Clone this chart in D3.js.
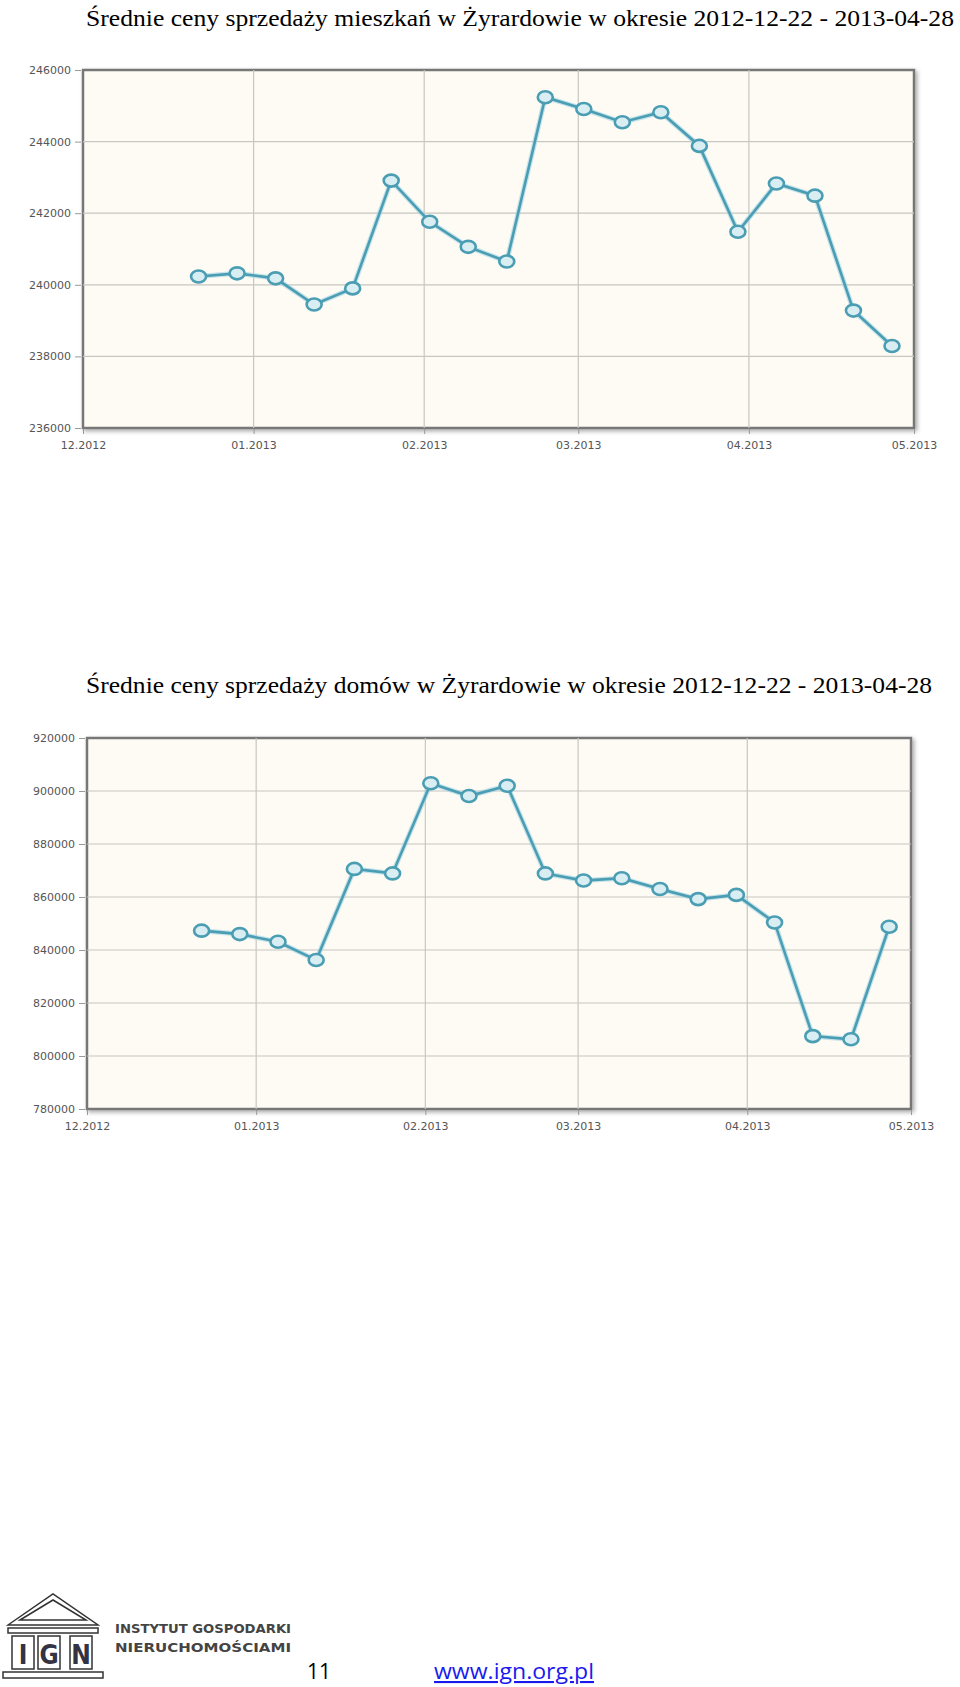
<!DOCTYPE html>
<html><head><meta charset="utf-8">
<script src="https://cdn.jsdelivr.net/npm/d3@7"></script>
<style>body{margin:0;background:#fff}svg{display:block}</style>
</head><body>
<script>
const dates = ["2012-12-22","2012-12-29","2013-01-05","2013-01-12","2013-01-19","2013-01-26","2013-02-02","2013-02-09","2013-02-16","2013-02-23","2013-03-02","2013-03-09","2013-03-16","2013-03-23","2013-03-30","2013-04-06","2013-04-13","2013-04-20","2013-04-27"];
const flatPrices = [240230,240320,240180,239450,239900,242910,241760,241060,240650,245240,244910,244540,244820,243880,241480,242830,242490,239280,238290];
const housePrices = [847300,846000,843100,836200,870600,868900,902900,898100,902000,868900,866200,867100,863000,859200,860800,850400,807500,806300,848800];
const monthTicks = ["2012-12-01","2013-01-01","2013-02-01","2013-03-01","2013-04-01","2013-05-01"];
const flatTicks = [236000,238000,240000,242000,244000,246000];
const houseTicks = [780000,800000,820000,840000,860000,880000,900000,920000];
const titles = ["Średnie ceny sprzedaży mieszkań w Żyrardowie w okresie 2012-12-22 - 2013-04-28",
                "Średnie ceny sprzedaży domów w Żyrardowie w okresie 2012-12-22 - 2013-04-28"];

const parse = d3.utcParse("%Y-%m-%d");
const fmtM = d3.utcFormat("%m.%Y");
const svg = d3.select("body").append("svg").attr("width",960).attr("height",1687);
const defs = svg.append("defs");
const f = defs.append("filter").attr("id","sh").attr("x","-5%").attr("y","-5%").attr("width","110%").attr("height","110%");
f.append("feDropShadow").attr("dx",2).attr("dy",2).attr("stdDeviation",2).attr("flood-color","#000").attr("flood-opacity",0.35);

function chart(cfg){
  const x = d3.scaleUtc().domain([parse(monthTicks[0]), parse(monthTicks[monthTicks.length-1])]).range([cfg.l, cfg.r]);
  const y = d3.scaleLinear().domain(cfg.domain).range([cfg.b, cfg.t]);
  const g = svg.append("g");
  g.append("text").attr("x",cfg.tx).attr("y",cfg.ty).attr("font-family","Liberation Serif").attr("font-size",24)
   .attr("textLength",cfg.tw).attr("lengthAdjust","spacingAndGlyphs").attr("fill","#000").text(cfg.title);
  g.append("rect").attr("x",cfg.l).attr("y",cfg.t).attr("width",cfg.r-cfg.l).attr("height",cfg.b-cfg.t)
   .attr("fill","#fdfbf4").attr("stroke","#777").attr("stroke-width",2.5).attr("filter","url(#sh)");
  // grid
  g.append("g").selectAll("line.h").data(cfg.ticks.slice(1,-1)).join("line")
   .attr("x1",cfg.l).attr("x2",cfg.r).attr("y1",d=>y(d)).attr("y2",d=>y(d)).attr("stroke","#c8c6c0").attr("stroke-width",1.2);
  g.append("g").selectAll("line.v").data(monthTicks.slice(1,-1)).join("line")
   .attr("x1",d=>x(parse(d))).attr("x2",d=>x(parse(d))).attr("y1",cfg.t).attr("y2",cfg.b).attr("stroke","#c8c6c0").attr("stroke-width",1.2);
  // axes
  const ya = d3.axisLeft(y).tickValues(cfg.ticks).tickFormat(d3.format("d")).tickSize(6).tickPadding(4);
  const yg = g.append("g").attr("transform",`translate(${cfg.l-2},0)`).call(ya);
  yg.select(".domain").remove();
  yg.selectAll("line").attr("stroke","#999");
  yg.selectAll("text").attr("font-family","DejaVu Sans").attr("font-size",11).attr("fill","#555");
  const xa = d3.axisBottom(x).tickValues(monthTicks.map(parse)).tickFormat(fmtM).tickSize(5).tickPadding(7);
  const xg = g.append("g").attr("transform",`translate(0,${cfg.b+1})`).call(xa);
  xg.select(".domain").remove();
  xg.selectAll("line").attr("stroke","#999");
  xg.selectAll("text").attr("font-family","DejaVu Sans").attr("font-size",11).attr("fill","#555");
  // line
  const pts = dates.map((d,i)=>[parse(d), cfg.values[i]]);
  const line = d3.line().x(d=>x(d[0])).y(d=>y(d[1]));
  g.append("path").datum(pts).attr("d",line).attr("fill","none").attr("stroke","#9fd4e2").attr("stroke-width",5).attr("opacity",0.6);
  g.append("path").datum(pts).attr("d",line).attr("fill","none").attr("stroke","#4a9db3").attr("stroke-width",2.6);
  g.append("g").selectAll("ellipse").data(pts).join("ellipse")
   .attr("cx",d=>x(d[0])).attr("cy",d=>y(d[1])).attr("rx",7.5).attr("ry",6)
   .attr("fill","#d8eef3").attr("stroke","#4a9db3").attr("stroke-width",2.6);
}
chart({title:titles[0],tx:86,ty:26,tw:868,l:83,r:914,t:70,b:428,domain:[236000,246000],ticks:flatTicks,values:flatPrices});
chart({title:titles[1],tx:86,ty:693,tw:846,l:87,r:911,t:738,b:1109,domain:[780000,920000],ticks:houseTicks,values:housePrices});

// footer
const ft = svg.append("g");
const lg = ft.append("g").attr("fill","none").attr("stroke","#333").attr("stroke-width",1.5);
lg.append("path").attr("d","M8,1625 L53,1594 L98,1625 Z");
lg.append("path").attr("d","M20,1620 L53,1600 L86,1620 Z");
lg.append("rect").attr("x",8).attr("y",1628).attr("width",90).attr("height",5);
lg.append("rect").attr("x",3).attr("y",1672).attr("width",100).attr("height",6);
[12,38,70].forEach(px=>lg.append("rect").attr("x",px).attr("y",1636).attr("width",22).attr("height",33));
[["I",23],["G",49],["N",81]].forEach(([t,px])=>ft.append("text").attr("x",px).attr("y",1664).attr("text-anchor","middle")
  .attr("font-family","DejaVu Sans Condensed").attr("font-weight","bold").attr("font-size",26).attr("fill","#334").text(t));
ft.append("text").attr("x",115).attr("y",1633).attr("font-family","DejaVu Sans").attr("font-weight","bold").attr("font-size",13).attr("fill","#444")
  .attr("textLength",176).attr("lengthAdjust","spacingAndGlyphs").text("INSTYTUT GOSPODARKI");
ft.append("text").attr("x",115).attr("y",1652).attr("font-family","DejaVu Sans").attr("font-weight","bold").attr("font-size",13).attr("fill","#444")
  .attr("textLength",176).attr("lengthAdjust","spacingAndGlyphs").text("NIERUCHOMOŚCIAMI");
ft.append("text").attr("x",307).attr("y",1679).attr("font-family","Open Sans").attr("font-size",21).attr("fill","#000").text("11");
ft.append("text").attr("x",434).attr("y",1679).attr("font-family","Open Sans").attr("font-size",21).attr("fill","#1a1aee")
  .attr("text-decoration","underline").attr("textLength",160).attr("lengthAdjust","spacingAndGlyphs").text("www.ign.org.pl");
</script>
</body></html>
